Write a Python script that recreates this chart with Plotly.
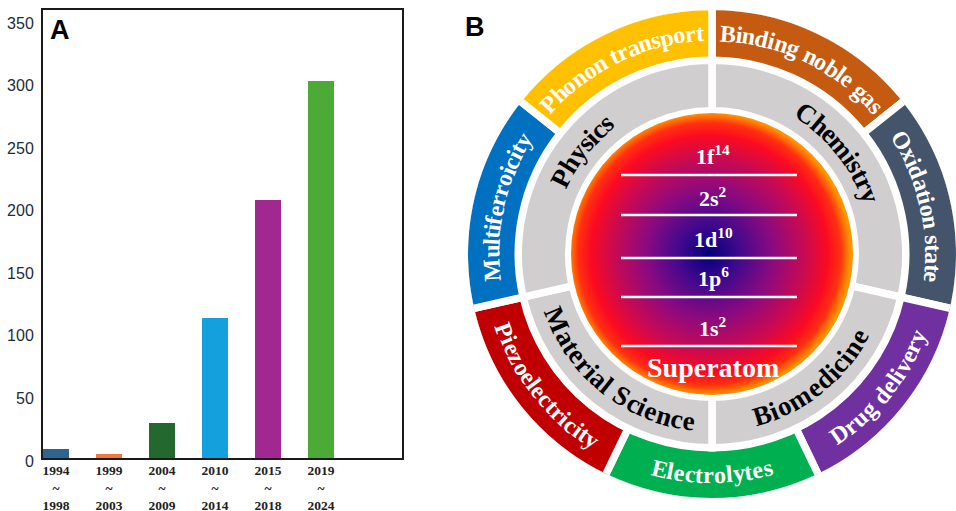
import base64
import math
import plotly.graph_objects as go

# ---------------- data ----------------
periods = ["1994<br>~<br>1998", "1999<br>~<br>2003", "2004<br>~<br>2009",
           "2010<br>~<br>2014", "2015<br>~<br>2018", "2019<br>~<br>2024"]
publications = [7, 3, 28, 112, 206, 301]
y_ticks = [0, 50, 100, 150, 200, 250, 300, 350]

fields = ["Chemistry", "Biomedicine", "Material Science", "Physics"]
field_sectors = [2, 1.5, 1.5, 2]          # share of the ring, in application sectors
applications = ["Binding noble gas", "Oxidation state", "Drug delivery", "Electrolytes",
                "Piezoelectricity", "Multiferroicity", "Phonon transport"]
shells = ["1s<sup>2</sup>", "1p<sup>6</sup>", "1d<sup>10</sup>", "2s<sup>2</sup>", "1f<sup>14</sup>"]
core_title = "Superatom"

# ---------------- styles ----------------
bar_colors = ["#2d6591", "#f2773a", "#23692f", "#14a0dc", "#a02890", "#4cab37"]
app_colors = ["#c55a11", "#44546a", "#7030a0", "#00b050", "#c00000", "#0070c0", "#ffc000"]
field_color = "#d0cece"

W, H = 956, 511
CX, CY = 712, 254
R_CORE = 141
R_FIELD = (147, 190)
R_APP = (194, 244)
GAP = 7.5
SERIF = "Liberation Serif"
SANS = "Liberation Sans"

# Times-Bold advance widths (per 1000 em)
TB = {" ": 250, "a": 500, "b": 556, "c": 444, "d": 556, "e": 444, "f": 333, "g": 500,
      "h": 556, "i": 278, "j": 333, "k": 556, "l": 278, "m": 833, "n": 556, "o": 500,
      "p": 556, "q": 556, "r": 444, "s": 389, "t": 333, "u": 556, "v": 500, "w": 722,
      "x": 500, "y": 500, "z": 444, "A": 722, "B": 667, "C": 722, "D": 722, "E": 667,
      "F": 611, "G": 778, "H": 778, "I": 389, "M": 944, "O": 778, "P": 611, "S": 556,
      "T": 667}


def paper(x, y):
    return x / W, 1 - y / H


def arc_text(text, theta_c, r, size, color):
    clockwise = not (100 < theta_c < 260)
    widths = [TB.get(ch, 500) * size / 1000 for ch in text]
    span = sum(widths) / r
    out = []
    cum = 0.0
    for ch, w in zip(text, widths):
        off = (cum + w / 2) / r
        cum += w
        if ch == " ":
            continue
        if clockwise:
            th = math.radians(theta_c) - span / 2 + off
            ang = math.degrees(th)
        else:
            th = math.radians(theta_c) + span / 2 - off
            ang = math.degrees(th) - 180
        ang = (ang + 180) % 360 - 180
        px, py = CX + r * math.sin(th), CY - r * math.cos(th)
        x, y = paper(px, py)
        out.append(dict(x=x, y=y, xref="paper", yref="paper", text="<b>" + ch + "</b>",
                        showarrow=False, textangle=ang, xanchor="center", yanchor="middle",
                        font=dict(family=SERIF, size=size, color=color)))
    return out


fig = go.Figure()

# ---------------- panel A ----------------
fig.add_trace(go.Bar(x=periods, y=publications, marker=dict(color=bar_colors, line=dict(width=0)),
                     width=0.49, hoverinfo="skip", showlegend=False))

# ---------------- panel B rings ----------------
unit = 360 / len(applications)
app_theta = [(i + 0.5) * unit for i in range(len(applications))]
fig.add_trace(go.Barpolar(
    theta=app_theta, width=[unit] * len(applications),
    base=[R_APP[0] - GAP / 2] * len(applications),
    r=[R_APP[1] - R_APP[0] + GAP] * len(applications),
    marker=dict(color=app_colors, line=dict(color="white", width=GAP)),
    subplot="polar", hoverinfo="skip", showlegend=False))

field_theta, field_width = [], []
start = 0
for s in field_sectors:
    field_width.append(s * unit)
    field_theta.append(start + s * unit / 2)
    start += s * unit
fig.add_trace(go.Barpolar(
    theta=field_theta, width=field_width,
    base=[R_FIELD[0] - GAP / 2] * len(fields),
    r=[R_FIELD[1] - R_FIELD[0] + GAP] * len(fields),
    marker=dict(color=field_color, line=dict(color="white", width=GAP)),
    subplot="polar", hoverinfo="skip", showlegend=False))

annotations = []
for name, th in zip(applications, app_theta):
    annotations += arc_text(name, th, (R_APP[0] + R_APP[1]) / 2 + 2, 24, "white")
for name, th in zip(fields, field_theta):
    annotations += arc_text(name, th, (R_FIELD[0] + R_FIELD[1]) / 2, 27, "black")

# core gradient (radial) as an SVG image
svg = ("<svg xmlns='http://www.w3.org/2000/svg' width='300' height='300' viewBox='0 0 300 300'>"
       "<defs><radialGradient id='g' cx='0.49' cy='0.5' r='0.5'>"
       "<stop offset='0' stop-color='#02007c'/>"
       "<stop offset='0.22' stop-color='#43098e'/>"
       "<stop offset='0.45' stop-color='#8a0a80'/>"
       "<stop offset='0.68' stop-color='#c90a52'/>"
       "<stop offset='0.84' stop-color='#fb0a22'/>"
       "<stop offset='0.93' stop-color='#ff3010'/>"
       "<stop offset='1' stop-color='#ff9400'/>"
       "</radialGradient></defs>"
       "<circle cx='150' cy='150' r='150' fill='url(#g)'/></svg>")
src = "data:image/svg+xml;base64," + base64.b64encode(svg.encode()).decode()
ix, iy = paper(CX - R_CORE, CY - R_CORE)
images = [dict(source=src, xref="paper", yref="paper", x=ix, y=iy,
               sizex=2 * R_CORE / W, sizey=2 * R_CORE / H, sizing="stretch",
               xanchor="left", yanchor="top", layer="above")]

# shell labels and separators
shell_label_y = [327, 277, 238, 197, 155]
shell_line_y = [346, 297, 258, 215, 175]
LINE_X = (621, 797)
shapes = []
for lab, ly, sy in zip(shells, shell_label_y, shell_line_y):
    x, y = paper(713, ly)
    annotations.append(dict(x=x, y=y, xref="paper", yref="paper", text="<b>" + lab + "</b>",
                            showarrow=False, xanchor="center", yanchor="middle",
                            font=dict(family=SERIF, size=22, color="white")))
    x0, y0 = paper(LINE_X[0], sy)
    x1, _ = paper(LINE_X[1], sy)
    shapes.append(dict(type="line", xref="paper", yref="paper", x0=x0, x1=x1, y0=y0, y1=y0,
                       line=dict(color="white", width=2.5), layer="above"))
x, y = paper(713, 367)
annotations.append(dict(x=x, y=y, xref="paper", yref="paper", text="<b>" + core_title + "</b>",
                        showarrow=False, xanchor="center", yanchor="middle",
                        font=dict(family=SERIF, size=28, color="white")))

# panel letters
for letter, px, py in [("A", 60, 30), ("B", 475, 27)]:
    x, y = paper(px, py)
    annotations.append(dict(x=x, y=y, xref="paper", yref="paper", text="<b>" + letter + "</b>",
                            showarrow=False, xanchor="center", yanchor="middle",
                            font=dict(family=SANS, size=27, color="black")))

polar_half = R_APP[1]
fig.update_layout(
    width=W, height=H, template="none",
    margin=dict(l=0, r=0, t=0, b=0),
    paper_bgcolor="white", plot_bgcolor="white",
    xaxis=dict(domain=[43 / W, 402 / W], type="category", range=[-0.245, 6.53],
               showline=True, mirror=True, linecolor="#1a1a1a", linewidth=2,
               ticks="", showgrid=False, zeroline=False, automargin=False,
               tickfont=dict(family=SERIF, size=13.5, color="#222222", weight="bold"),
               ticklabelstandoff=-1),
    yaxis=dict(domain=[1 - 458 / H, 1 - 10 / H], range=[0, 358], tickvals=y_ticks,
               showline=True, mirror=True, linecolor="#1a1a1a", linewidth=2,
               ticks="", showgrid=False, zeroline=False, automargin=False,
               tickfont=dict(family=SANS, size=16, color="#1b2b40"),
               ticklabelshift=3, ticklabelstandoff=4),
    polar=dict(domain=dict(x=[(CX - polar_half) / W, (CX + polar_half) / W],
                           y=[1 - (CY + polar_half) / H, 1 - (CY - polar_half) / H]),
               bgcolor="rgba(0,0,0,0)",
               angularaxis=dict(rotation=90, direction="clockwise", visible=False,
                                showgrid=False),
               radialaxis=dict(range=[0, polar_half], visible=False, showgrid=False)),
    annotations=annotations, shapes=shapes, images=images,
    bargap=0,
)

fig.write_html("out.html", config={"displayModeBar": False},
               post_script="document.body.style.margin='0';document.body.style.overflow='hidden';")
